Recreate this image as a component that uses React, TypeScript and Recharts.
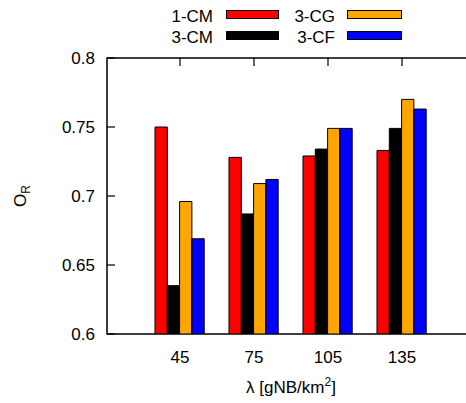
import React from "react";
import * as R from "recharts";
import { BarChart, Bar, XAxis, YAxis } from "recharts";

// density values (gNB/km^2) and O_R per scheme
const lambdas = ["45", "75", "105", "135"];
const cm1 = [0.750, 0.728, 0.729, 0.733];
const cm3 = [0.635, 0.687, 0.734, 0.749];
const cg3 = [0.696, 0.709, 0.749, 0.770];
const cf3 = [0.669, 0.712, 0.749, 0.763];
const yTicks = [0.6, 0.65, 0.7, 0.75, 0.8];

const series = [
  { key: "cm1", name: "1-CM", color: "#ff0000" },
  { key: "cm3", name: "3-CM", color: "#000000" },
  { key: "cg3", name: "3-CG", color: "#ffa500" },
  { key: "cf3", name: "3-CF", color: "#0000ff" },
];

const data = lambdas.map((l, i) => ({ lambda: l, cm1: cm1[i], cm3: cm3[i], cg3: cg3[i], cf3: cf3[i] }));

const FONT = "'Liberation Sans', Arial, Helvetica, sans-serif";
const Y_MARGIN = 12;
const INK = "#000";
const usePlotArea: any = (R as any).usePlotArea;

const YTick = (props: any) => {
  const x = Number(props.x);
  const y = Number(props.y);
  return (
    <g>
      <path d={`M${x + Y_MARGIN},${y}h8`} stroke={INK} strokeWidth={1.2} fill="none" />
      <text x={x} y={y} dy="0.36em" textAnchor="end" fontSize={17} fontFamily={FONT} fill="#000">
        {props.payload.value}
      </text>
    </g>
  );
};

// bottom label + mirrored tick on the top border, pointing inward
const XTick = (props: any) => {
  const x = Number(props.x);
  const y = Number(props.y);
  const area = usePlotArea ? usePlotArea() : null;
  return (
    <g>
      {area && <path d={`M${x},${area.y}v8`} stroke={INK} strokeWidth={1.2} fill="none" />}
      <text x={x} y={y + 29} textAnchor="middle" fontSize={17} fontFamily={FONT} fill="#000">
        {props.payload.value}
      </text>
    </g>
  );
};

const XLabel = (props: any) => {
  const vb = props.viewBox || {};
  return (
    <text x={vb.x + vb.width / 2} y={vb.y + 59} textAnchor="middle" fontSize={17} fontFamily={FONT} fill="#000">
      λ [gNB/km<tspan dy={-7} fontSize={12}>2</tspan><tspan dy={7}>]</tspan>
    </text>
  );
};

const YLabel = (props: any) => {
  const vb = props.viewBox || {};
  const cx = vb.x + 26;
  const cy = vb.y + vb.height / 2;
  return (
    <text transform={`translate(${cx}, ${cy}) rotate(-90)`} textAnchor="middle" fontSize={17} fontFamily={FONT} fill="#000">
      O<tspan dy={4} fontSize={12}>R</tspan>
    </text>
  );
};

const Frame: React.FC = () => {
  const area = usePlotArea ? usePlotArea() : null;
  if (!area) return null;
  return <rect x={area.x} y={area.y} width={area.width} height={area.height} fill="none" stroke={INK} strokeWidth={1.5} />;
};

// legend: two columns, two rows (gnuplot style key), drawn in the chart svg
const legendPos = [
  { textRight: 213, box: 226, boxW: 53, row: 0 },
  { textRight: 213, box: 226, boxW: 53, row: 1 },
  { textRight: 335, box: 347, boxW: 55, row: 0 },
  { textRight: 335, box: 347, boxW: 55, row: 1 },
];

const KeyBox: React.FC = () => (
  <g>
    {series.map((s, i) => {
      const p = legendPos[i];
      const base = p.row === 0 ? 21.5 : 43;
      const boxTop = p.row === 0 ? 10.5 : 31.5;
      return (
        <g key={s.key}>
          <text x={p.textRight} y={base} textAnchor="end" fontSize={17} fontFamily={FONT} fill="#000">{s.name}</text>
          <rect x={p.box + 0.5} y={boxTop} width={p.boxW - 1} height={8} fill={s.color} stroke={INK} strokeWidth={1} />
        </g>
      );
    })}
  </g>
);

const App: React.FC = () => (
  <div style={{ position: "absolute", left: 0, top: 0, width: 466, height: 403, overflow: "hidden", background: "#fff" }}>
    <BarChart width={480} height={403} data={data} margin={{ top: 58, right: 5, bottom: 0, left: 0 }} barGap={0} barSize={12.3}>
      <XAxis
        dataKey="lambda"
        height={69}
        padding={{ left: 36, right: 36 }}
        axisLine={false}
        tickLine={false}
        tickSize={0}
        tickMargin={0}
        tick={<XTick />}
        label={<XLabel />}
      />
      <YAxis
        width={107}
        domain={[0.6, 0.8]}
        ticks={yTicks}
        allowDataOverflow
        axisLine={false}
        tickLine={false}
        tickSize={0}
        tickMargin={Y_MARGIN}
        tick={<YTick />}
        label={<YLabel />}
      />
      {series.map((s) => (
        <Bar key={s.key} dataKey={s.key} name={s.name} fill={s.color} stroke={INK} strokeWidth={1} isAnimationActive={false} />
      ))}
      <Frame />
      <KeyBox />
    </BarChart>
  </div>
);

export default App;
